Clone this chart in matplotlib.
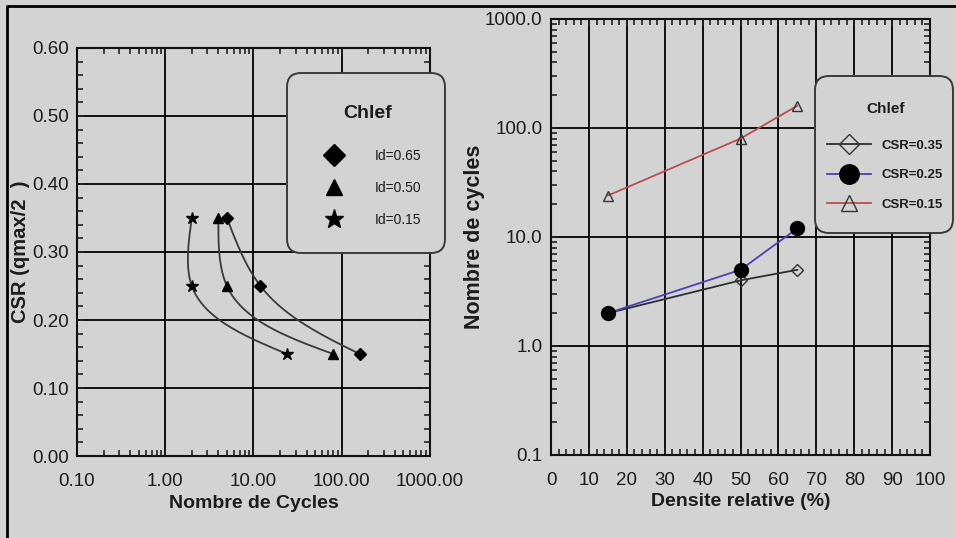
import numpy as np
import matplotlib
matplotlib.use("Agg")
import matplotlib.pyplot as plt
from matplotlib.patches import FancyBboxPatch
from matplotlib.lines import Line2D
from matplotlib.transforms import IdentityTransform
from matplotlib.ticker import MultipleLocator, LogLocator, FixedLocator, NullFormatter

# CSR levels and number of cycles to liquefaction for each density index
csr_levels = [0.35, 0.25, 0.15]
cycles_id065 = [5.0, 12.0, 160.0]
cycles_id050 = [4.0, 5.0, 80.0]
cycles_id015 = [2.0, 2.0, 24.0]
id_labels = ["Id=0.65", "Id=0.50", "Id=0.15"]

# relative density (%) matching each Id
densite = [15, 50, 65]
csr_labels = ["CSR=0.35", "CSR=0.25", "CSR=0.15"]

bg = "#d3d3d3"
txt = "#1c1c1c"
plt.rcParams["font.family"] = ["Liberation Sans", "DejaVu Sans"]

fig = plt.figure(figsize=(9.56, 5.38), dpi=100)
fig.patch.set_facecolor(bg)


def style_axes(ax):
    ax.set_facecolor(bg)
    ax.grid(True, which="major", color="black", lw=1.3)
    ax.set_axisbelow(True)
    for s in ax.spines.values():
        s.set_linewidth(1.5)
        s.set_color("#111111")
    ax.tick_params(which="both", direction="in", top=True, right=True,
                   colors="#222222", labelcolor=txt, labelsize=13.5)
    ax.tick_params(which="major", length=5, width=1.2)
    ax.tick_params(which="minor", length=4, width=1.2)


def natural_spline(t, y, tt):
    # natural cubic spline of y(t), evaluated at tt
    n = len(t)
    h = np.diff(t)
    A = np.zeros((n, n))
    r = np.zeros(n)
    A[0, 0] = A[-1, -1] = 1
    for i in range(1, n - 1):
        A[i, i - 1:i + 2] = [h[i - 1], 2 * (h[i - 1] + h[i]), h[i]]
        r[i] = 6 * ((y[i + 1] - y[i]) / h[i] - (y[i] - y[i - 1]) / h[i - 1])
    M = np.linalg.solve(A, r)
    k = np.clip(np.searchsorted(t, tt) - 1, 0, n - 2)
    a, b, hk = t[k + 1] - tt, tt - t[k], h[k]
    return (M[k] * a ** 3 / (6 * hk) + M[k + 1] * b ** 3 / (6 * hk)
            + (y[k] / hk - M[k] * hk / 6) * a + (y[k + 1] / hk - M[k + 1] * hk / 6) * b)


def smooth_through(ax, xs, ys, n=150):
    # parametric spline through the points, built in display space
    pts = ax.transData.transform(np.column_stack([xs, ys]))
    d = np.r_[0, np.cumsum(np.hypot(*np.diff(pts, axis=0).T))]
    t = d / d[-1]
    tt = np.linspace(0, 1, n)
    px = natural_spline(t, pts[:, 0], tt)
    py = natural_spline(t, pts[:, 1], tt)
    return ax.transData.inverted().transform(np.column_stack([px, py])).T


# ---- left: CSR vs number of cycles ----
ax1 = fig.add_axes([0.0805, 0.1524, 0.3693, 0.7584])
style_axes(ax1)
ax1.set_xscale("log")
ax1.set_xlim(0.1, 1000)
ax1.set_ylim(0, 0.6)
ax1.xaxis.set_major_locator(FixedLocator([0.1, 1, 10, 100, 1000]))
ax1.set_xticklabels(["0.10", "1.00", "10.00", "100.00", "1000.00"])
ax1.xaxis.set_minor_locator(LogLocator(base=10, subs=np.arange(2, 10)))
ax1.xaxis.set_minor_formatter(NullFormatter())
ax1.set_yticks(np.arange(0, 0.61, 0.1))
ax1.set_yticklabels([f"{v:.2f}" for v in np.arange(0, 0.61, 0.1)])
ax1.yaxis.set_minor_locator(MultipleLocator(0.02))
ax1.tick_params(axis="x", pad=12)
ax1.tick_params(axis="y", pad=6)

left_series = [(cycles_id065, "D", 6), (cycles_id050, "^", 7), (cycles_id015, "*", 9)]
for cyc, mk, ms in left_series:
    cx, cy = smooth_through(ax1, cyc, csr_levels)
    ax1.plot(cx, cy, color="#3a3a3a", lw=1.3, zorder=3)
    ax1.plot(cyc, csr_levels, ls="none", marker=mk, ms=ms, color="black", zorder=4)

ax1.set_xlabel("Nombre de Cycles", fontsize=14, fontweight="bold", color=txt, labelpad=4)
ax1.set_ylabel("CSR (qmax/2  )", fontsize=14.5, fontweight="bold", color=txt, labelpad=1)

# ---- right: number of cycles vs relative density ----
ax2 = fig.add_axes([0.5764, 0.1543, 0.3964, 0.8104])
style_axes(ax2)
ax2.set_yscale("log")
ax2.set_ylim(0.1, 1000)
ax2.set_xlim(0, 100)
ax2.set_xticks(np.arange(0, 101, 10))
ax2.xaxis.set_minor_locator(MultipleLocator(2))
ax2.yaxis.set_major_locator(FixedLocator([0.1, 1, 10, 100, 1000]))
ax2.set_yticklabels(["0.1", "1.0", "10.0", "100.0", "1000.0"])
ax2.yaxis.set_minor_locator(LogLocator(base=10, subs=np.arange(2, 10)))
ax2.yaxis.set_minor_formatter(NullFormatter())
ax2.tick_params(axis="x", pad=12)
ax2.tick_params(axis="y", pad=6)

right_styles = [
    ("#2e2e2e", "D", 6.5, "none"),
    ("#4a40b8", "o", 10, "black"),
    ("#b85050", "^", 7, "none"),
]
handles2 = []
for i, (col, mk, ms, mfc) in enumerate(right_styles):
    n = [cycles_id015[i], cycles_id050[i], cycles_id065[i]]
    mec = "#333333" if mfc == "none" else "black"
    ax2.plot(densite, n, color=col, lw=1.3, marker=mk, ms=ms, mfc=mfc, mec=mec, zorder=3)
    handles2.append(Line2D([], [], color=col, lw=1.3, marker=mk,
                           ms=ms + 4, mfc=mfc, mec=mec))

ax2.set_xlabel("Densite relative (%)", fontsize=14, fontweight="bold", color=txt, labelpad=3)
ax2.set_ylabel("Nombre de cycles", fontsize=15.5, fontweight="bold", color=txt, labelpad=0)

# ---- legend boxes (rounded, opaque) ----
fig.add_artist(FancyBboxPatch((287, 285), 158, 180,
                              boxstyle="round,pad=0,rounding_size=14",
                              transform=IdentityTransform(), fc=bg, ec="#3a3a3a", lw=1.4, zorder=2))
fig.add_artist(FancyBboxPatch((815, 305), 138, 157,
                              boxstyle="round,pad=0,rounding_size=14",
                              transform=IdentityTransform(), fc=bg, ec="#3a3a3a", lw=1.4, zorder=2))

fig.text(368 / 956, 1 - 113 / 538, "Chlef", ha="center", va="center",
         fontsize=14, fontweight="bold", color=txt, zorder=4)
fig.text(886 / 956, 1 - 109 / 538, "Chlef", ha="center", va="center",
         fontsize=11, fontweight="bold", color=txt, zorder=4)

handles1 = [Line2D([], [], ls="none", marker=mk, ms=ms + 5, color="black")
            for _, mk, ms in left_series]
leg1 = fig.legend(handles1, id_labels, loc="upper center",
                  bbox_to_anchor=(371 / 956, 1 - 142 / 538), frameon=False,
                  fontsize=10, handlelength=2, handletextpad=1.95,
                  labelspacing=1.3, borderpad=0)
leg2 = fig.legend(handles2, csr_labels, loc="upper center",
                  bbox_to_anchor=(885 / 956, 1 - 133 / 538), frameon=False,
                  prop={"weight": "bold", "size": 9.5}, handlelength=3.3,
                  handletextpad=0.8, labelspacing=1.3, borderpad=0)
for leg in (leg1, leg2):
    leg.set_zorder(3)
    for t in leg.get_texts():
        t.set_color(txt)

# outer frame (top and left edges)
fig.add_artist(Line2D([7, 7, 956], [0, 532, 532], color="black", lw=2,
                      transform=IdentityTransform()))

fig.savefig("out.png", dpi=100, facecolor=bg)
